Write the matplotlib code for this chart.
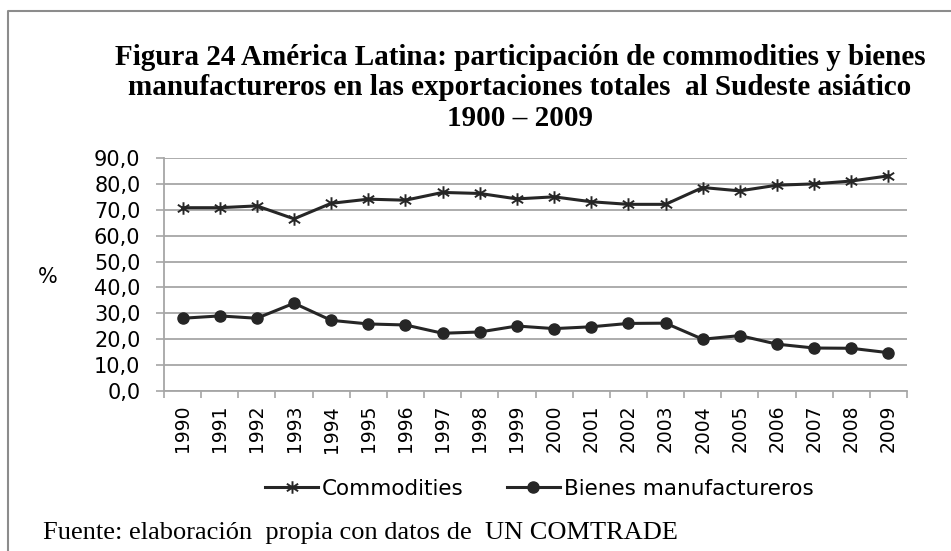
import matplotlib
matplotlib.use("Agg")
import matplotlib.pyplot as plt
from matplotlib.path import Path
from matplotlib.lines import Line2D
import numpy as np

years = [str(y) for y in range(1990, 2010)]
commodities = [70.8, 70.8, 71.5, 66.5, 72.5, 74.1, 73.7, 76.7, 76.3, 74.2,
               75.0, 73.1, 72.1, 72.1, 78.6, 77.3, 79.5, 80.0, 81.1, 83.1]
bienes = [28.1, 29.0, 28.1, 33.9, 27.3, 25.9, 25.5, 22.3, 22.8, 25.1,
          24.1, 24.8, 26.1, 26.2, 20.0, 21.4, 18.1, 16.6, 16.5, 14.8]
yticks = [0, 10, 20, 30, 40, 50, 60, 70, 80, 90]
ytick_labels = ["0,0", "10,0", "20,0", "30,0", "40,0", "50,0", "60,0", "70,0", "80,0", "90,0"]

title = ("Figura 24 América Latina: participación de commodities y bienes\n"
         "manufactureros en las exportaciones totales  al Sudeste asiático\n"
         "1900 – 2009")
footer = "Fuente: elaboración  propia con datos de  UN COMTRADE"

W, H = 951, 551
fig = plt.figure(figsize=(W / 100, H / 100), dpi=100)
fig.patch.set_facecolor("white")

def fx(px):
    return px / W

def fy(py):
    return 1 - py / H

ax = fig.add_axes([fx(164), fy(391), fx(907) - fx(164), fy(158) - fy(391)])

# asterisk marker (vertical + two diagonals)
ast = Path([(0, -1), (0, 1), (-0.9, -0.6), (0.9, 0.6), (-0.9, 0.6), (0.9, -0.6)],
           [Path.MOVETO, Path.LINETO, Path.MOVETO, Path.LINETO, Path.MOVETO, Path.LINETO])

x = np.arange(len(years))
line_col = "#262626"
ax.plot(x, commodities, color=line_col, lw=2.2, marker=ast, markersize=9,
        markeredgewidth=1.4, markerfacecolor="none", markeredgecolor=line_col,
        label="Commodities", zorder=3)
ax.plot(x, bienes, color=line_col, lw=2.2, marker="o", markersize=8,
        markerfacecolor=line_col, markeredgecolor=line_col,
        label="Bienes manufactureros", zorder=3)

grid_col = "#a6a6a6"
ax.set_ylim(0, 90)
ax.set_xlim(-0.5, len(years) - 0.5)
ax.set_yticks(yticks)
ax.set_yticklabels(ytick_labels)
ax.yaxis.grid(True, color=grid_col, lw=1.3)
ax.set_axisbelow(True)

ax.set_xticks(np.arange(-0.5, len(years), 1.0))
ax.set_xticklabels([])
ax.set_xticks(x, minor=True)
ax.set_xticklabels(years, minor=True, rotation=90)
ax.tick_params(axis="x", which="major", length=5, color=grid_col, width=1.2)
ax.tick_params(axis="x", which="minor", length=0, pad=10)
ax.tick_params(axis="y", length=6, color=grid_col, width=1.2, pad=11)

for lab in ax.get_yticklabels():
    lab.set_fontfamily("DejaVu Sans")
    lab.set_fontsize(15)
    lab.set_color("black")
for lab in ax.get_xticklabels(minor=True):
    lab.set_fontfamily("DejaVu Sans")
    lab.set_fontsize(13.5)
    lab.set_color("black")

for s in ["top", "right"]:
    ax.spines[s].set_visible(False)
ax.spines["left"].set_color(grid_col)
ax.spines["left"].set_linewidth(1.3)
ax.spines["bottom"].set_color(grid_col)
ax.spines["bottom"].set_linewidth(1.3)

fig.text(fx(48), fy(277), "%", fontsize=15, family="DejaVu Sans", ha="center", va="center")

fig.text(fx(520), fy(88), title, fontsize=21, family="Liberation Serif", weight="bold",
         ha="center", va="center", linespacing=1.17)

handles, labels = ax.get_legend_handles_labels()
fig.legend(handles, labels, loc="center", bbox_to_anchor=(fx(539), fy(489)), ncol=2,
           frameon=False, prop={"family": "DejaVu Sans", "size": 15.5},
           handlelength=2.5, columnspacing=2.0, handletextpad=0.15)

fig.text(fx(43), fy(533), footer, fontsize=19, family="Liberation Serif",
         ha="left", va="center")

# outer frame (left and top edges visible)
fig.add_artist(Line2D([fx(8), fx(8), fx(951)], [0, fy(11), fy(11)],
                      transform=fig.transFigure, color="#8c8c8c", lw=1.5))

fig.savefig("out.png", dpi=100)
